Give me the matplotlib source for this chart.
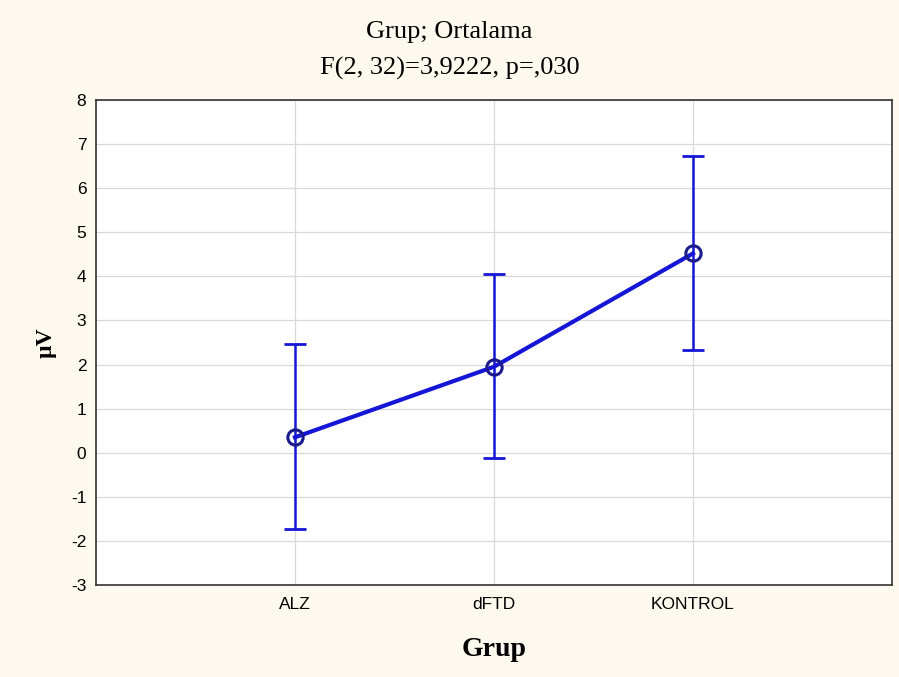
import matplotlib.pyplot as plt
import numpy as np

plt.rcParams['axes.unicode_minus'] = False

groups = ["ALZ", "dFTD", "KONTROL"]
means = [0.35, 1.95, 4.52]
lower = [-1.73, -0.12, 2.33]
upper = [2.47, 4.06, 6.72]

bg = "#fdf9ee"
blue = "#1515d6"

fig = plt.figure(figsize=(8.99, 6.77), dpi=100, facecolor=bg)
ax = fig.add_axes([0.1068, 0.1359, 0.8854, 0.7164])
ax.set_facecolor("white")

x = np.arange(1, len(groups) + 1)
m = np.array(means)
yerr = [m - np.array(lower), np.array(upper) - m]

ax.errorbar(x, m, yerr=yerr, fmt="none", ecolor=blue, elinewidth=1.8,
            capsize=8, capthick=2, zorder=3)
ax.plot(x, m, color=blue, lw=3, zorder=4)
ax.plot(x, m, "o", mfc="none", mec="#1a1a8c", mew=2.2, ms=11, zorder=5)

ax.set_xlim(0, 4)
ax.set_ylim(-3, 8)
ax.set_xticks(x)
ax.set_xticklabels(groups)
ax.set_yticks(range(-3, 9))
ax.grid(color="#d9d9d9", lw=0.9)
ax.set_axisbelow(True)
ax.tick_params(length=0, labelsize=12.5, pad=7)
ax.tick_params(axis="x", pad=9)
for lab in ax.get_xticklabels() + ax.get_yticklabels():
    lab.set_fontfamily("Liberation Sans")
for s in ax.spines.values():
    s.set_color("#333333")
    s.set_linewidth(1.2)

ax.set_xlabel("Grup", fontfamily="Liberation Serif", fontweight="bold",
              fontsize=20, labelpad=18)
ax.set_ylabel("µV", fontfamily="Liberation Serif", fontweight="bold",
              fontsize=17, labelpad=10)

fig.text(0.5, 1 - 32 / 677, "Grup; Ortalama", ha="center", va="center",
         fontfamily="Liberation Serif", fontsize=19)
fig.text(0.5, 1 - 68 / 677, "F(2, 32)=3,9222, p=,030", ha="center", va="center",
         fontfamily="Liberation Serif", fontsize=19)

fig.savefig("out.png", dpi=100, facecolor=bg)
